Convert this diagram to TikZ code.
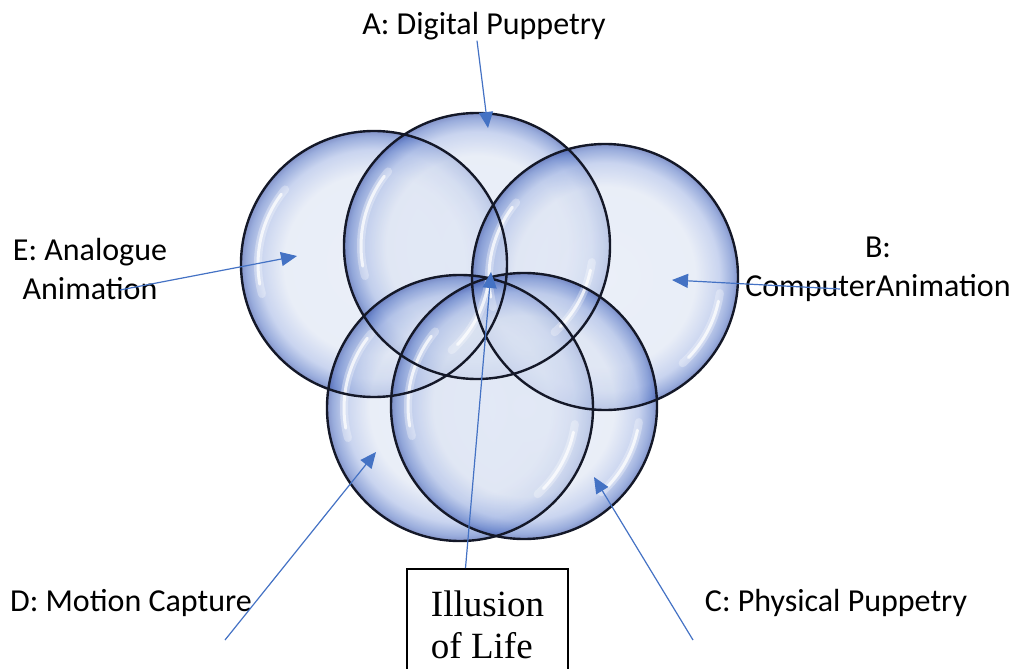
\documentclass[tikz,border=0pt]{standalone}
\usepackage{fontspec}
\setmainfont{Carlito}
\newfontfamily\serifbox{Liberation Serif}
\usetikzlibrary{arrows.meta}
\definecolor{venn_arrow}{RGB}{68, 114, 196}
\definecolor{venn_rim}{RGB}{20, 24, 40}
% pale bubble with a blue rim (the circle itself ends at 25bp)
\pgfdeclareradialshading{bubble}{\pgfpoint{0bp}{0bp}}{%
  rgb(0bp)=(0.87,0.90,0.96); rgb(17bp)=(0.86,0.89,0.95);
  rgb(21.5bp)=(0.66,0.73,0.90); rgb(24bp)=(0.36,0.48,0.78);
  rgb(25bp)=(0.22,0.32,0.66); rgb(50bp)=(0.22,0.32,0.66)}

\begin{document}
\begin{tikzpicture}[x=1pt, y=-1pt,
    bub/.style={circle, inner sep=0pt, minimum size=266pt, shade,
                shading=bubble, fill opacity=0.62},
    rim/.style={draw=venn_rim, line width=2.4pt},
    gloss/.style={white, line width=3pt, line cap=round, opacity=0.75},
    haze/.style={white, line width=8pt, line cap=round, opacity=0.3},
    lbl/.style={font=\fontsize{32}{39}\selectfont, align=center, inner sep=0pt},
    arr/.style={-{Triangle[length=16pt, width=14pt]}, venn_arrow, line width=1.2pt},
  ]
  \useasboundingbox (0,0) rectangle (1018,669);

  % the five bubbles
  \node[bub] (E) at (374,264) {};
  \node[bub] (A) at (477,246) {};
  \node[bub] (B) at (605,277) {};
  \node[bub] (D) at (460,408) {};
  \node[bub] (C) at (524,406) {};

  \foreach \n in {A,B,C,D,E} {
    \draw[haze] (\n.center) ++(140:116pt) arc[start angle=140, end angle=195, radius=116pt];
    \draw[gloss] (\n.center) ++(143:116pt) arc[start angle=143, end angle=190, radius=116pt];
    \draw[haze] (\n.center) ++(-8:116pt) arc[start angle=-8, end angle=-48, radius=116pt];
    \draw[gloss] (\n.center) ++(-12:116pt) arc[start angle=-12, end angle=-44, radius=116pt];
  }
  \foreach \n in {A,B,C,D,E}
    \draw[rim] (\n.center) circle[radius=133pt];

  % labels
  \node[lbl, anchor=base] (labA) at (484,35) {A: Digital Puppetry};
  \node[lbl] (labE) at (90,269) {E: Analogue\\Animation};
  \node[lbl] (labB) at (878,269) {B:\\ComputerAnimation};
  \node[lbl, anchor=base] (labD) at (131,611) {D: Motion Capture};
  \node[lbl, anchor=base] (labC) at (836,611) {C: Physical Puppetry};
  \node[draw=black, line width=2pt, fill=white, anchor=north, minimum width=161pt,
        inner ysep=22pt, align=left, font=\serifbox\fontsize{37}{42}\selectfont]
    (life) at (487.5,568) {Illusion\\of Life};

  \coordinate (tipA) at (488,128);
  \coordinate (tipE) at (297,256);
  \coordinate (tipB) at (672,280);
  \coordinate (tipD) at (376,452);
  \coordinate (tipC) at (594,477);
  \coordinate (core) at (491,272);
  \coordinate (tailE) at (120,290);
  \coordinate (tailB) at (840,289);
  \coordinate (tailD) at (225,640);
  \coordinate (tailC) at (693,640);

  \draw[arr] ([xshift=-7pt]labA.south) -- (tipA);
  \draw[arr] (tailE) -- (tipE);
  \draw[arr] (tailB) -- (tipB);
  \draw[arr] (tailD) -- (tipD);
  \draw[arr] (tailC) -- (tipC);
  \draw[arr] ([xshift=-22pt]life.north) -- (core);
\end{tikzpicture}
\end{document}
